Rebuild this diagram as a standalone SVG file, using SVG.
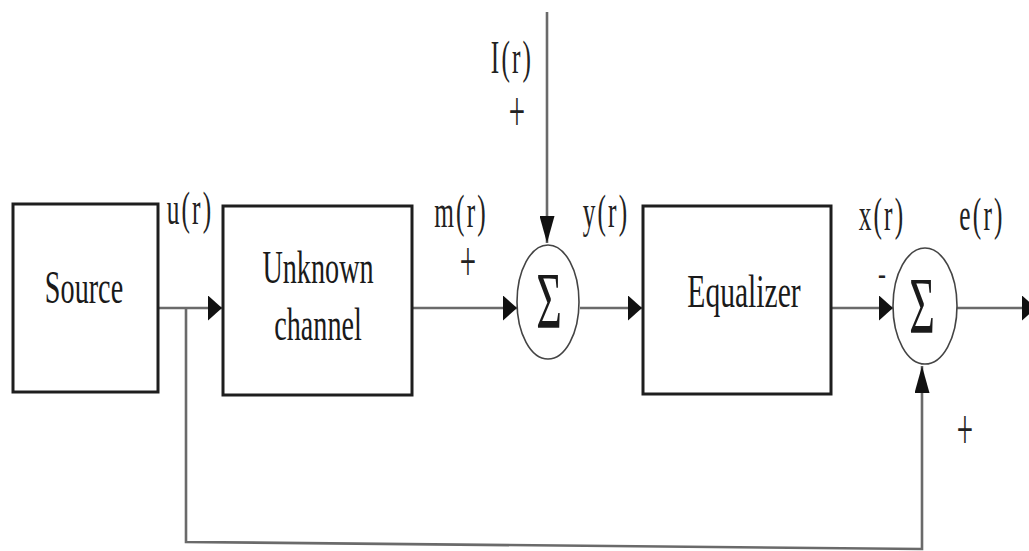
<svg xmlns="http://www.w3.org/2000/svg" width="1029" height="551" viewBox="0 0 1029 551">
<style>
.box{fill:#fff;stroke:#1e1e1e;stroke-width:3}
.sum{fill:#fff;stroke:#444;stroke-width:1.6}
.ln{fill:none;stroke:#6a6a6a;stroke-width:2.6}
.big{font-family:"Liberation Serif",serif;font-size:47px;fill:#1a1a1a;text-anchor:middle}
.sig{font-family:"Liberation Serif",serif;font-size:80px;fill:#1a1a1a;text-anchor:middle}
.lab{font-family:"Liberation Serif",serif;font-size:46px;fill:#222;text-anchor:middle;letter-spacing:4px}
.pl{font-family:"Liberation Serif",serif;font-size:34px;fill:#222;text-anchor:middle}
</style>
<defs>
<marker id="ah" markerUnits="userSpaceOnUse" markerWidth="14" markerHeight="25" refX="14" refY="12.5" orient="auto" viewBox="0 0 14 25">
<path d="M0,0 L14,12.5 L0,25 z" fill="#111"/>
</marker>
<marker id="av" markerUnits="userSpaceOnUse" markerWidth="27" markerHeight="15" refX="27" refY="7.5" orient="auto" viewBox="0 0 27 15">
<path d="M0,0 L27,7.5 L0,15 z" fill="#111"/>
</marker>
</defs>
<rect width="1029" height="551" fill="#fff"/>

<g id="connectors">
<line class="ln" x1="158" y1="308" x2="222" y2="308" marker-end="url(#ah)"/>
<line class="ln" x1="413" y1="308" x2="517" y2="308" marker-end="url(#ah)"/>
<line class="ln" x1="547" y1="12" x2="547" y2="243" marker-end="url(#av)"/>
<line class="ln" x1="580" y1="308" x2="642" y2="308" marker-end="url(#ah)"/>
<line class="ln" x1="831" y1="308" x2="893" y2="308" marker-end="url(#ah)"/>
<line class="ln" x1="957" y1="308" x2="1036" y2="308" marker-end="url(#ah)"/>
<polyline class="ln" points="186,308 186,542 922,549 922,366" marker-end="url(#av)"/>
</g>

<g id="source">
<rect class="box" x="13" y="204" width="145" height="188"/>
<text class="big" transform="translate(84,303) scale(0.6,1)">Source</text>
</g>

<g id="channel">
<rect class="box" x="223" y="206" width="189" height="189"/>
<text class="big" transform="translate(318,283) scale(0.6,1)">Unknown</text>
<text class="big" transform="translate(318,340) scale(0.6,1)">channel</text>
</g>

<g id="sum1">
<ellipse class="sum" cx="548" cy="302" rx="31" ry="57"/>
<text class="sig" transform="translate(549,328) scale(0.55,1)">Σ</text>
</g>

<g id="equalizer">
<rect class="box" x="643" y="206" width="188" height="188"/>
<text class="big" transform="translate(744,307) scale(0.63,1)">Equalizer</text>
</g>

<g id="sum2">
<ellipse class="sum" cx="925" cy="306" rx="32" ry="58"/>
<text class="sig" transform="translate(922,333) scale(0.55,1)">Σ</text>
</g>

<g id="labels">
<text class="lab" transform="translate(190,224) scale(0.55,1)">u(r)</text>
<text class="lab" transform="translate(461,227) scale(0.55,1)">m(r)</text>
<text class="lab" transform="translate(606,227) scale(0.55,1)">y(r)</text>
<text class="lab" transform="translate(882,230) scale(0.55,1)">x(r)</text>
<text class="lab" transform="translate(982,230) scale(0.55,1)">e(r)</text>
<text class="lab" transform="translate(512,73) scale(0.55,1)">I(r)</text>
<text class="pl" transform="translate(468,281) scale(0.85,1.7)">+</text>
<text class="pl" transform="translate(517,131) scale(0.85,1.7)">+</text>
<text class="pl" transform="translate(965,449) scale(0.85,1.7)">+</text>
<text class="pl" transform="translate(882,285) scale(0.7,1)">-</text>
</g>
</svg>
